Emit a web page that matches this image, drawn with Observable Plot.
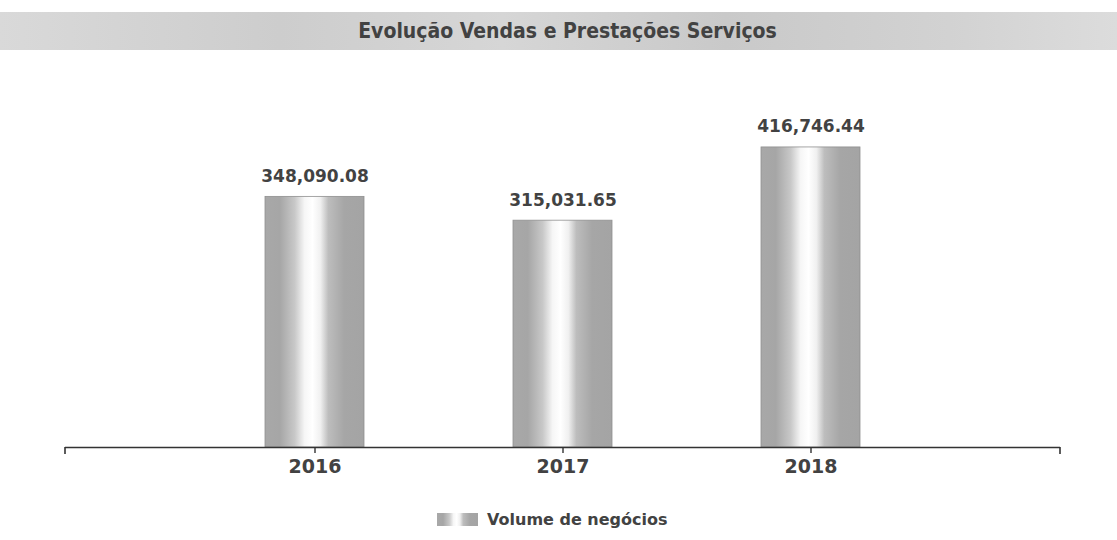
<!DOCTYPE html>
<html>
<head>
<meta charset="utf-8">
<script src="https://cdn.jsdelivr.net/npm/d3@7"></script>
<script src="https://cdn.jsdelivr.net/npm/@observablehq/plot@0.6"></script>
<style>
  html, body { margin: 0; padding: 0; background: #fff; width: 1117px; height: 540px; overflow: hidden; }
  #title {
    position: absolute; left: 0; top: 12px; width: 1117px; height: 38px;
    background: linear-gradient(to right, #d9d9d9 0%, #cdcdcd 25%, #d6d6d6 45%, #c9c9c9 65%, #d2d2d2 85%, #dcdcdc 100%);
    display: flex; align-items: center; justify-content: center;
    font-family: "DejaVu Sans Condensed", "DejaVu Sans", sans-serif; font-weight: bold; font-size: 21px; color: #424242;
  }
  #title span { margin-left: 18px; }
  #chart { position: absolute; left: 0; top: 0; }
  #legend {
    position: absolute; top: 510px; left: 437px; display: flex; align-items: center;
    font-family: "DejaVu Sans", sans-serif; font-weight: bold; font-size: 16px; color: #424242;
  }
  #legend .sw {
    width: 41px; height: 13px; margin-right: 9px;
    background: linear-gradient(to right, #a8a8a8 0%, #a6a6a6 15%, #c8c8c8 30%, #f6f6f6 40%, #ffffff 48%, #f0f0f0 56%, #bdbdbd 64%, #a6a6a6 80%, #a4a4a4 100%);
  }
</style>
</head>
<body>
<div id="title"><span>Evolução Vendas e Prestações Serviços</span></div>
<div id="chart"></div>
<div id="legend"><div class="sw"></div><div>Volume de negócios</div></div>
<script>
const years = ["2016", "2017", "2018"];
const values = [348090.08, 315031.65, 416746.44];
const labels = ["348,090.08", "315,031.65", "416,746.44"];
const seriesName = "Volume de negócios";

const data = years.map((y, i) => ({year: y, value: values[i], label: labels[i]}));

const plot = Plot.plot({
  width: 1117,
  height: 500,
  marginLeft: 65,
  marginRight: 57,
  marginTop: 123,
  marginBottom: 53,
  style: {background: "transparent", overflow: "visible"},
  x: {domain: years, paddingInner: 0.6, paddingOuter: 0.8, label: null},
  y: {domain: [0, 450000], axis: null},
  marks: [
    Plot.barY(data, {x: "year", y: "value", fill: "url(#barGrad)", stroke: "#909090", strokeWidth: 0.8}),
    Plot.ruleY([0], {stroke: "#333", strokeWidth: 1.6}),
    Plot.axisX({tickSize: 6, tickPadding: 6, stroke: "#333", strokeWidth: 1.4, fontSize: 19, fontWeight: "bold", fill: "#424242", fontFamily: "DejaVu Sans, sans-serif", label: null}),
    Plot.text(data, {x: "year", y: "value", text: "label", dy: -15, lineAnchor: "bottom", fontSize: 17, fontWeight: "bold", fill: "#424242", fontFamily: "DejaVu Sans, sans-serif"})
  ]
});

document.getElementById("chart").appendChild(plot);

const svg = d3.select(plot);
const defs = svg.insert("defs", ":first-child");
const g = defs.append("linearGradient").attr("id", "barGrad").attr("x1", "0").attr("x2", "1").attr("y1", "0").attr("y2", "0");
[[0, "#a8a8a8"], [0.15, "#a6a6a6"], [0.3, "#c8c8c8"], [0.4, "#f6f6f6"], [0.48, "#ffffff"], [0.56, "#f0f0f0"], [0.64, "#bdbdbd"], [0.8, "#a6a6a6"], [1, "#a4a4a4"]]
  .forEach(([o, c]) => g.append("stop").attr("offset", o).attr("stop-color", c));

// end ticks of the baseline at the frame edges
const xr = plot.scale("x").range;
const y0 = plot.scale("y").apply(0);
svg.append("g").attr("stroke", "#333").attr("stroke-width", 1.6)
  .selectAll("line").data(xr).join("line")
  .attr("x1", d => d).attr("x2", d => d).attr("y1", y0).attr("y2", y0 + 7);
</script>
</body>
</html>
